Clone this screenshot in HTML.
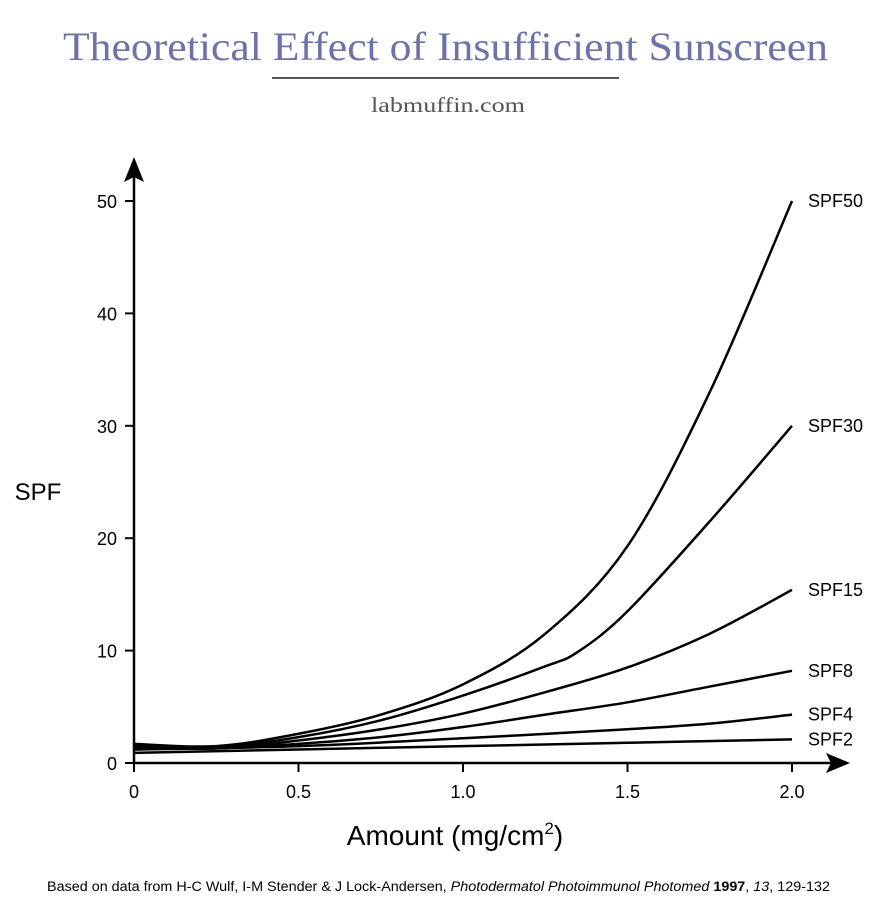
<!DOCTYPE html>
<html><head><meta charset="utf-8"><style>
body{margin:0;background:#fff;width:882px;height:900px;overflow:hidden}
svg text{font-family:"Liberation Sans",sans-serif}
</style></head><body>
<svg width="882" height="900" id="c">
<text x="63" y="60" textLength="765" lengthAdjust="spacingAndGlyphs" font-size="40" fill="#6b73a8" style="font-family:'Liberation Serif',serif">Theoretical Effect of Insufficient Sunscreen</text>
<rect x="272" y="77" width="347" height="2" fill="#555"/>
<text x="371" y="112" textLength="154" lengthAdjust="spacingAndGlyphs" font-size="21" fill="#555" style="font-family:'Liberation Serif',serif">labmuffin.com</text>
<text x="38" y="500" text-anchor="middle" font-size="24" fill="#000">SPF</text>
<text x="455" y="845" text-anchor="middle" font-size="28" fill="#000">Amount (mg/cm<tspan dy="-11" font-size="17">2</tspan><tspan dy="11">)</tspan></text>
<text x="47" y="891" textLength="783" lengthAdjust="spacingAndGlyphs" font-size="13.5" fill="#000">Based on data from H-C Wulf, I-M Stender &amp; J Lock-Andersen, <tspan font-style="italic">Photodermatol Photoimmunol Photomed</tspan> <tspan font-weight="bold">1997</tspan>, <tspan font-style="italic">13</tspan>, 129-132</text>
<g id="axes"></g><g id="lines"></g>
</svg>
<script>
const xTicks=[0,0.5,1.0,1.5,2.0];
const xTickLabels=["0","0.5","1.0","1.5","2.0"];
const yTicks=[0,10,20,30,40,50];
const seriesNames=["SPF50","SPF30","SPF15","SPF8","SPF4","SPF2"];
const xs50=[0,0.25,0.5,0.75,1.0,1.25,1.5,1.75,2.0];
const spf50=[1.7,1.5,2.6,4.3,7.0,11.5,19.3,33,50];
const xs30=[0,0.25,0.5,0.75,1.0,1.25,1.35,1.5,1.75,2.0];
const spf30=[1.6,1.4,2.3,3.8,6.0,8.6,9.9,13.5,21.5,30];
const xs15=[0,0.25,0.5,0.75,1.0,1.25,1.5,1.75,2.0];
const spf15=[1.5,1.3,2.0,3.0,4.4,6.3,8.5,11.5,15.4];
const xs8=[0,0.25,0.5,0.75,1.0,1.25,1.5,1.75,2.0];
const spf8=[1.3,1.3,1.7,2.3,3.2,4.3,5.4,6.8,8.2];
const xs4=[0,0.5,1.0,1.5,1.75,2.0];
const spf4=[1.2,1.5,2.2,3.0,3.5,4.3];
const xs2=[0,0.5,1.0,1.5,2.0];
const spf2=[0.9,1.2,1.5,1.8,2.1];
const X=v=>134+v*329, Y=v=>763-v*11.24;
const NS="http://www.w3.org/2000/svg";
function mk(t,a,p){const e=document.createElementNS(NS,t);for(const k in a)e.setAttribute(k,a[k]);p.appendChild(e);return e;}
const ax=document.getElementById('axes');
let e=mk('line',{x1:134,y1:763,x2:835,y2:763,stroke:'#000','stroke-width':2.5},ax);


e=mk('polygon',{points:'850,763 826,753 831,763 826,773',fill:'#000'},ax);


e=mk('line',{x1:134,y1:763,x2:134,y2:170,stroke:'#000','stroke-width':2.5},ax);


e=mk('polygon',{points:'134,157 124,182 134,177 144,182',fill:'#000'},ax);


xTicks.forEach((v,i)=>{
 let t=mk('line',{x1:X(v),y1:763,x2:X(v),y2:772,stroke:'#000','stroke-width':2},ax);
 
 
 let l=mk('text',{x:X(v),y:798,'text-anchor':'middle','font-size':18},ax);l.textContent=xTickLabels[i];
 
 
});
yTicks.forEach(v=>{
 let t=mk('line',{x1:125,y1:Y(v),x2:134,y2:Y(v),stroke:'#000','stroke-width':2},ax);
 
 
 let l=mk('text',{x:117,y:Y(v)+7,'text-anchor':'end','font-size':18},ax);l.textContent=String(v);
 
 
});
function path(xa,ya){
 const p=xa.map((x,i)=>[X(x),Y(ya[i])]);
 let d='M'+p[0][0]+','+p[0][1];
 for(let i=0;i<p.length-1;i++){
  const p0=p[Math.max(0,i-1)],p1=p[i],p2=p[i+1],p3=p[Math.min(p.length-1,i+2)];
  const c1=[p1[0]+(p2[0]-p0[0])/6,p1[1]+(p2[1]-p0[1])/6],c2=[p2[0]-(p3[0]-p1[0])/6,p2[1]-(p3[1]-p1[1])/6];
  d+=' C'+c1+' '+c2+' '+p2;
 }
 return d;
}
const ln=document.getElementById('lines');
const sx=[xs50,xs30,xs15,xs8,xs4,xs2], sy=[spf50,spf30,spf15,spf8,spf4,spf2];
seriesNames.forEach((n,i)=>{
 let p=mk('path',{d:path(sx[i],sy[i]),fill:'none',stroke:'#000','stroke-width':2.5},ln);
 
 
 const last=sy[i][sy[i].length-1];
 let t=mk('text',{x:808,y:Y(last)+6,'font-size':18},ln);t.textContent=n;
 
 
});
</script>
</body></html>
